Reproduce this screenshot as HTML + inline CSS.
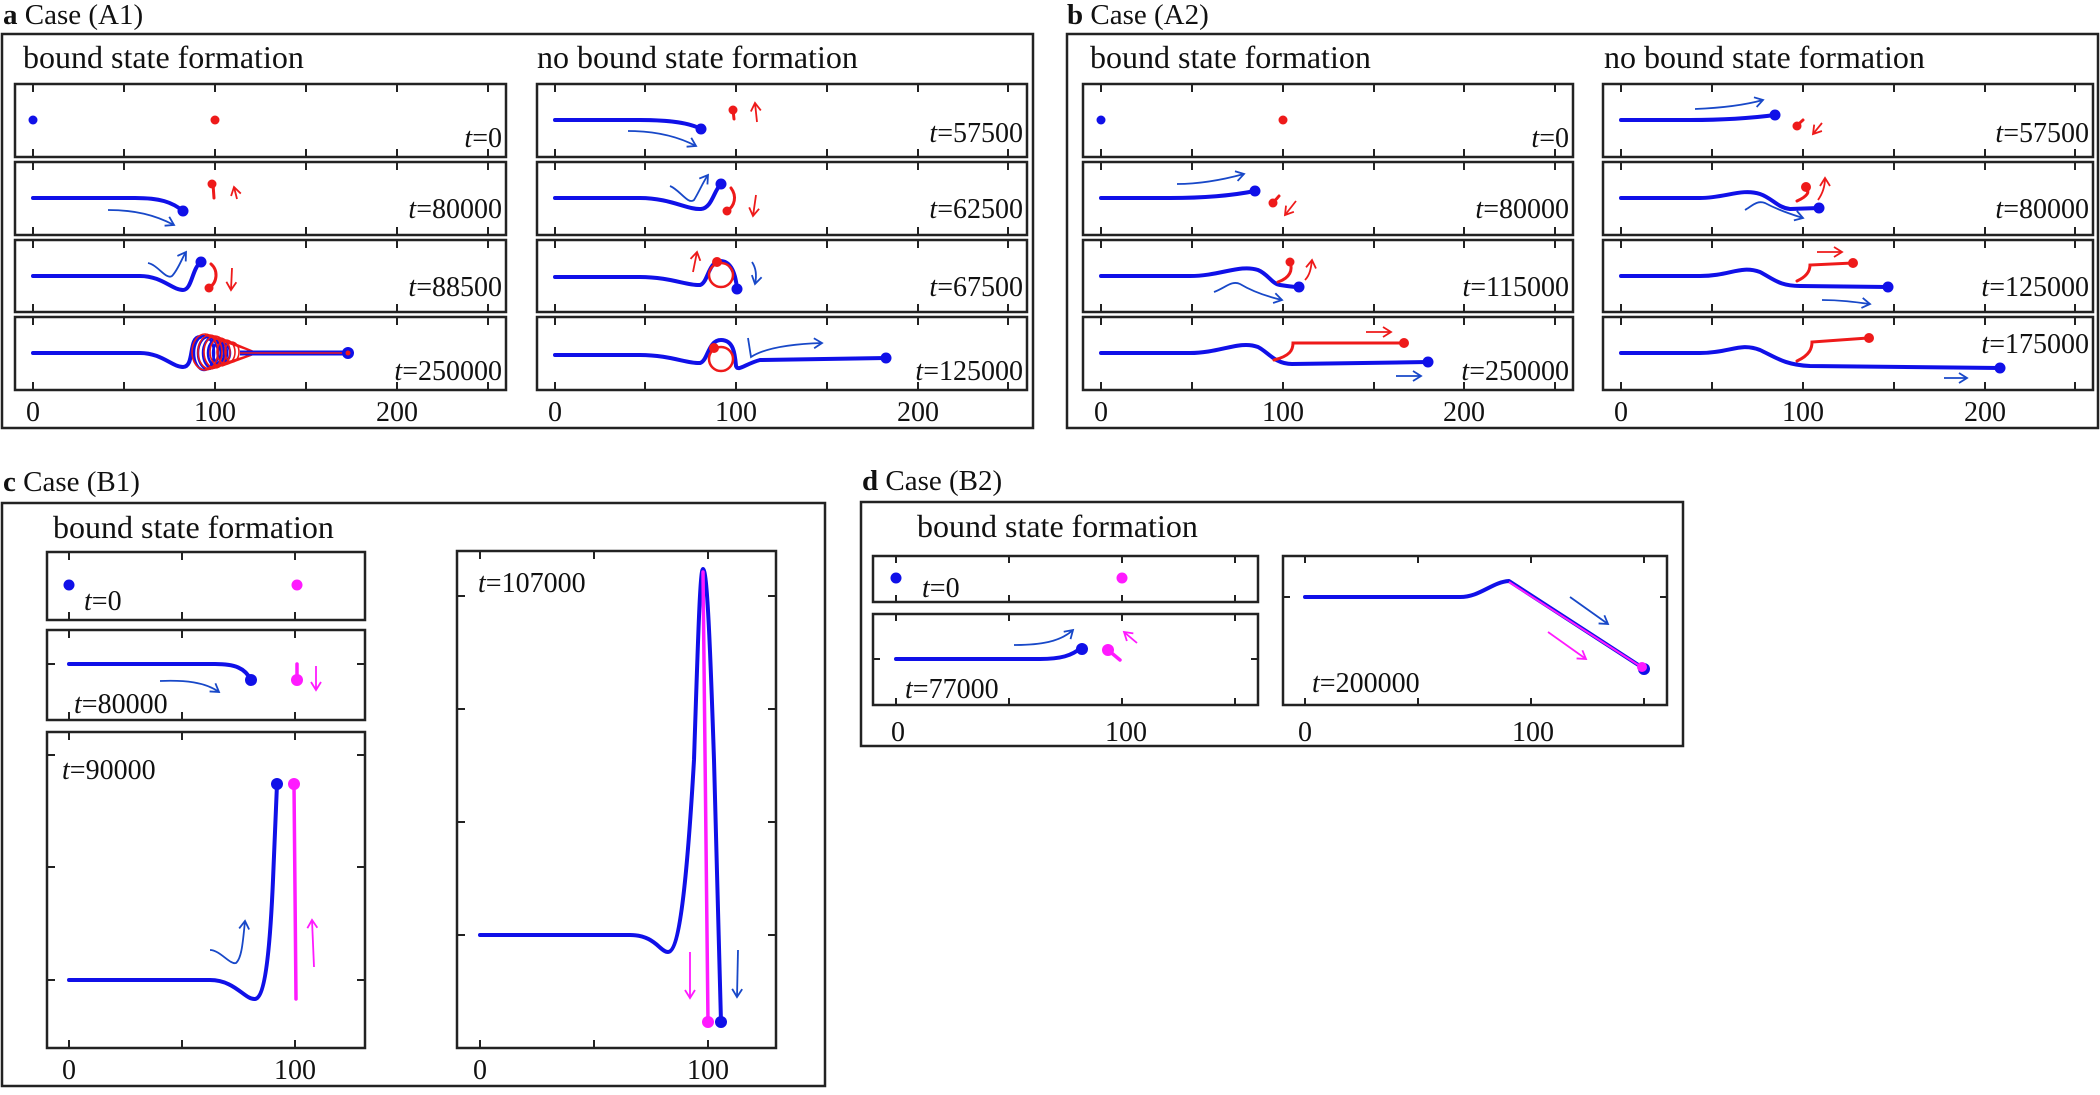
<!DOCTYPE html>
<html><head><meta charset="utf-8"><style>
html,body{margin:0;padding:0;background:#fff;}
svg{display:block;}
text{font-family:"Liberation Serif",serif;font-size:28px;fill:#111;}
.hd{font-size:32px;}
.ti{font-size:29px;}
.fr{fill:none;stroke:#222;stroke-width:2.5;}
.tk{stroke:#222;stroke-width:2;}
.b{fill:none;stroke:#1010e8;stroke-width:4;stroke-linecap:round;stroke-linejoin:round;}
.r{fill:none;stroke:#ee1a1a;stroke-width:3;stroke-linecap:round;}
.m{fill:none;stroke:#ff1aff;stroke-width:3.5;stroke-linecap:round;}
.ba{fill:none;stroke:#1848c8;stroke-width:1.8;marker-end:url(#ab);}
.ra{fill:none;stroke:#ee1a1a;stroke-width:1.8;marker-end:url(#ar);}
.ma{fill:none;stroke:#ff1aff;stroke-width:1.8;marker-end:url(#am);}
.bd{fill:#1010e8;}.rd{fill:#ee1a1a;}.md{fill:#ff1aff;}
</style></head><body>
<svg width="2100" height="1095" viewBox="0 0 2100 1095" xmlns="http://www.w3.org/2000/svg">
<defs>
<marker id="ab" markerWidth="12" markerHeight="12" refX="9" refY="6" orient="auto" markerUnits="userSpaceOnUse"><path d="M1,1 L9,6 L1,11" fill="none" stroke="#1848c8" stroke-width="1.8"/></marker>
<marker id="ar" markerWidth="12" markerHeight="12" refX="9" refY="6" orient="auto" markerUnits="userSpaceOnUse"><path d="M1,1 L9,6 L1,11" fill="none" stroke="#ee1a1a" stroke-width="1.8"/></marker>
<marker id="am" markerWidth="12" markerHeight="12" refX="9" refY="6" orient="auto" markerUnits="userSpaceOnUse"><path d="M1,1 L9,6 L1,11" fill="none" stroke="#ff1aff" stroke-width="1.8"/></marker>
</defs>

<!-- ============ Panel a ============ -->
<text class="ti" x="3" y="24"><tspan font-weight="bold">a</tspan> Case (A1)</text>
<rect class="fr" x="2" y="34" width="1031" height="394"/>
<text class="hd" x="23" y="68">bound state formation</text>
<text class="hd" x="537" y="68">no bound state formation</text>
<rect class="fr" x="15" y="84" width="491" height="73"/>
<rect class="fr" x="15" y="162" width="491" height="73"/>
<rect class="fr" x="15" y="240" width="491" height="72"/>
<rect class="fr" x="15" y="317" width="491" height="73"/>
<rect class="fr" x="537" y="84" width="490" height="73"/>
<rect class="fr" x="537" y="162" width="490" height="73"/>
<rect class="fr" x="537" y="240" width="490" height="72"/>
<rect class="fr" x="537" y="317" width="490" height="73"/>
<path class="tk" d="
M33,84v8M124,84v8M215,84v8M306,84v8M397,84v8M488,84v8 M33,157v-8M124,157v-8M215,157v-8M306,157v-8M397,157v-8M488,157v-8
M33,162v8M124,162v8M215,162v8M306,162v8M397,162v8M488,162v8 M33,235v-8M124,235v-8M215,235v-8M306,235v-8M397,235v-8M488,235v-8
M33,240v8M124,240v8M215,240v8M306,240v8M397,240v8M488,240v8 M33,312v-8M124,312v-8M215,312v-8M306,312v-8M397,312v-8M488,312v-8
M33,317v8M124,317v8M215,317v8M306,317v8M397,317v8M488,317v8 M33,390v-8M124,390v-8M215,390v-8M306,390v-8M397,390v-8M488,390v-8
M555,84v8M645,84v8M736,84v8M827,84v8M918,84v8M1008,84v8 M555,157v-8M645,157v-8M736,157v-8M827,157v-8M918,157v-8M1008,157v-8
M555,162v8M645,162v8M736,162v8M827,162v8M918,162v8M1008,162v8 M555,235v-8M645,235v-8M736,235v-8M827,235v-8M918,235v-8M1008,235v-8
M555,240v8M645,240v8M736,240v8M827,240v8M918,240v8M1008,240v8 M555,312v-8M645,312v-8M736,312v-8M827,312v-8M918,312v-8M1008,312v-8
M555,317v8M645,317v8M736,317v8M827,317v8M918,317v8M1008,317v8 M555,390v-8M645,390v-8M736,390v-8M827,390v-8M918,390v-8M1008,390v-8"/>
<text x="33" y="421" text-anchor="middle">0</text><text x="215" y="421" text-anchor="middle">100</text><text x="397" y="421" text-anchor="middle">200</text>
<text x="555" y="421" text-anchor="middle">0</text><text x="736" y="421" text-anchor="middle">100</text><text x="918" y="421" text-anchor="middle">200</text>
<text x="502" y="147" text-anchor="end"><tspan font-style="italic">t</tspan>=0</text>
<text x="502" y="218" text-anchor="end"><tspan font-style="italic">t</tspan>=80000</text>
<text x="502" y="296" text-anchor="end"><tspan font-style="italic">t</tspan>=88500</text>
<text x="502" y="380" text-anchor="end"><tspan font-style="italic">t</tspan>=250000</text>
<text x="1023" y="142" text-anchor="end"><tspan font-style="italic">t</tspan>=57500</text>
<text x="1023" y="218" text-anchor="end"><tspan font-style="italic">t</tspan>=62500</text>
<text x="1023" y="296" text-anchor="end"><tspan font-style="italic">t</tspan>=67500</text>
<text x="1023" y="380" text-anchor="end"><tspan font-style="italic">t</tspan>=125000</text>
<!-- a left -->
<circle class="bd" cx="33" cy="120" r="4.5"/><circle class="rd" cx="215" cy="120" r="4.5"/>
<path class="b" d="M33,198 L135,198 C160,198 172,202 183,211"/><circle class="bd" cx="183" cy="211" r="5.5"/>
<path class="ba" d="M108,210 C135,210 155,215 174,225"/>
<path class="r" d="M213,184 L214,198"/><circle class="rd" cx="212" cy="184" r="4.5"/>
<path class="ra" d="M237,199 L234,187"/>
<path class="b" d="M33,276 L140,276 C162,276 172,290 183,290 C192,290 192,268 201,262"/><circle class="bd" cx="201" cy="262" r="5.5"/>
<path class="ba" d="M148,263 C158,265 166,280 172,276 C178,270 182,258 186,252"/>
<path class="r" d="M211,264 C218,270 218,282 209,288"/><circle class="rd" cx="209" cy="288" r="4.5"/>
<path class="ra" d="M232,268 L231,290"/>
<path class="b" d="M33,353 L140,353 C162,353 172,367 183,367 C195,367 188,337 200,337"/>
<g fill="none" stroke="#1010e8" stroke-width="2.5">
<ellipse cx="204" cy="353" rx="10" ry="17"/><ellipse cx="208" cy="353" rx="10" ry="16"/><ellipse cx="212" cy="353" rx="9" ry="15"/><ellipse cx="216" cy="353" rx="8" ry="13"/><ellipse cx="220" cy="353" rx="7" ry="11"/><ellipse cx="224" cy="353" rx="6" ry="9"/>
</g>
<g fill="none" stroke="#ee1a1a" stroke-width="1.6">
<ellipse cx="205" cy="352" rx="13" ry="18"/><ellipse cx="210" cy="352" rx="12" ry="17"/><ellipse cx="215" cy="352" rx="11" ry="16"/><ellipse cx="220" cy="352" rx="10" ry="14"/><ellipse cx="226" cy="352" rx="9" ry="12"/><ellipse cx="232" cy="352" rx="7" ry="10"/>
<path d="M205,335 L257,353 M212,336 L257,353 M220,338 L257,353 M228,341 L257,353 M205,369 L257,353 M213,368 L257,353 M222,366 L257,353 M230,363 L257,353"/>
</g>
<path d="M240,353 L348,353" stroke="#1010e8" stroke-width="5" fill="none"/>
<path d="M240,353 L348,353" stroke="#ee1a1a" stroke-width="1.5" fill="none"/>
<circle class="bd" cx="348" cy="353" r="6"/><circle class="rd" cx="348" cy="353" r="2.5"/>
<!-- a right -->
<path class="b" d="M555,120 L640,120 C670,120 690,123 701,129"/><circle class="bd" cx="701" cy="129" r="5.5"/>
<path class="ba" d="M628,131 C655,131 677,136 696,146"/>
<path class="r" d="M733,110 L734,119"/><circle class="rd" cx="733" cy="110" r="4.5"/>
<path class="ra" d="M757,122 L755,103"/>
<path class="b" d="M555,198 L640,198 C670,198 688,210 701,209 C712,208 714,190 721,184"/><circle class="bd" cx="721" cy="184" r="5.5"/>
<path class="ba" d="M670,186 C680,190 688,205 694,200 C699,192 703,182 708,175"/>
<path class="r" d="M731,188 C737,196 735,206 727,211"/><circle class="rd" cx="727" cy="211" r="4.5"/>
<path class="ra" d="M756,195 L753,216"/>
<path class="b" d="M555,277 L640,277 C670,277 688,286 700,285 C708,283 708,262 720,261 C733,261 736,278 737,289"/><circle class="bd" cx="737" cy="289" r="5.5"/>
<circle cx="721" cy="275" r="12" fill="none" stroke="#ee1a1a" stroke-width="2.5"/><circle class="rd" cx="717" cy="262" r="5"/>
<path class="ra" d="M693,272 L697,252"/>
<path class="ba" d="M752,262 C756,268 757,275 755,284"/>
<path class="b" d="M555,355 L640,355 C670,355 688,364 700,363 C708,361 708,340 721,340 C734,340 735,355 736,366 C738,372 745,364 760,360 L886,358"/><circle class="bd" cx="886" cy="358" r="5.5"/>
<circle cx="721" cy="359" r="12" fill="none" stroke="#ee1a1a" stroke-width="2.5"/><circle class="rd" cx="714" cy="348" r="5"/>
<path class="ba" d="M748,338 L751,357 C765,348 790,344 822,343"/>

<!-- ============ Panel b ============ -->
<text class="ti" x="1067" y="24"><tspan font-weight="bold">b</tspan> Case (A2)</text>
<rect class="fr" x="1067" y="34" width="1031" height="394"/>
<text class="hd" x="1090" y="68">bound state formation</text>
<text class="hd" x="1604" y="68">no bound state formation</text>
<rect class="fr" x="1083" y="84" width="490" height="73"/>
<rect class="fr" x="1083" y="162" width="490" height="73"/>
<rect class="fr" x="1083" y="240" width="490" height="72"/>
<rect class="fr" x="1083" y="317" width="490" height="73"/>
<rect class="fr" x="1603" y="84" width="490" height="73"/>
<rect class="fr" x="1603" y="162" width="490" height="73"/>
<rect class="fr" x="1603" y="240" width="490" height="72"/>
<rect class="fr" x="1603" y="317" width="490" height="73"/>
<path class="tk" d="
M1101,84v8M1192,84v8M1283,84v8M1374,84v8M1464,84v8M1555,84v8 M1101,157v-8M1192,157v-8M1283,157v-8M1374,157v-8M1464,157v-8M1555,157v-8
M1101,162v8M1192,162v8M1283,162v8M1374,162v8M1464,162v8M1555,162v8 M1101,235v-8M1192,235v-8M1283,235v-8M1374,235v-8M1464,235v-8M1555,235v-8
M1101,240v8M1192,240v8M1283,240v8M1374,240v8M1464,240v8M1555,240v8 M1101,312v-8M1192,312v-8M1283,312v-8M1374,312v-8M1464,312v-8M1555,312v-8
M1101,317v8M1192,317v8M1283,317v8M1374,317v8M1464,317v8M1555,317v8 M1101,390v-8M1192,390v-8M1283,390v-8M1374,390v-8M1464,390v-8M1555,390v-8
M1621,84v8M1712,84v8M1803,84v8M1894,84v8M1985,84v8M2075,84v8 M1621,157v-8M1712,157v-8M1803,157v-8M1894,157v-8M1985,157v-8M2075,157v-8
M1621,162v8M1712,162v8M1803,162v8M1894,162v8M1985,162v8M2075,162v8 M1621,235v-8M1712,235v-8M1803,235v-8M1894,235v-8M1985,235v-8M2075,235v-8
M1621,240v8M1712,240v8M1803,240v8M1894,240v8M1985,240v8M2075,240v8 M1621,312v-8M1712,312v-8M1803,312v-8M1894,312v-8M1985,312v-8M2075,312v-8
M1621,317v8M1712,317v8M1803,317v8M1894,317v8M1985,317v8M2075,317v8 M1621,390v-8M1712,390v-8M1803,390v-8M1894,390v-8M1985,390v-8M2075,390v-8"/>
<text x="1101" y="421" text-anchor="middle">0</text><text x="1283" y="421" text-anchor="middle">100</text><text x="1464" y="421" text-anchor="middle">200</text>
<text x="1621" y="421" text-anchor="middle">0</text><text x="1803" y="421" text-anchor="middle">100</text><text x="1985" y="421" text-anchor="middle">200</text>
<text x="1569" y="147" text-anchor="end"><tspan font-style="italic">t</tspan>=0</text>
<text x="1569" y="218" text-anchor="end"><tspan font-style="italic">t</tspan>=80000</text>
<text x="1569" y="296" text-anchor="end"><tspan font-style="italic">t</tspan>=115000</text>
<text x="1569" y="380" text-anchor="end"><tspan font-style="italic">t</tspan>=250000</text>
<text x="2089" y="142" text-anchor="end"><tspan font-style="italic">t</tspan>=57500</text>
<text x="2089" y="218" text-anchor="end"><tspan font-style="italic">t</tspan>=80000</text>
<text x="2089" y="296" text-anchor="end"><tspan font-style="italic">t</tspan>=125000</text>
<text x="2089" y="353" text-anchor="end"><tspan font-style="italic">t</tspan>=175000</text>
<!-- b left -->
<circle class="bd" cx="1101" cy="120" r="4.5"/><circle class="rd" cx="1283" cy="120" r="4.5"/>
<path class="b" d="M1101,198 L1170,198 C1200,198 1230,196 1255,191"/><circle class="bd" cx="1255" cy="191" r="5.5"/>
<path class="ba" d="M1177,184 C1200,184 1222,180 1244,174"/>
<path class="r" d="M1273,202 C1276,200 1278,197 1279,196"/><circle class="rd" cx="1273" cy="203" r="4.5"/>
<path class="ra" d="M1296,201 L1285,215"/>
<path class="b" d="M1101,276 L1190,276 C1220,276 1240,264 1258,270 C1268,274 1272,284 1280,285 C1288,286 1292,287 1299,287"/><circle class="bd" cx="1299" cy="287" r="5.5"/>
<path class="r" d="M1278,282 C1290,278 1293,270 1290,262"/><circle class="rd" cx="1290" cy="262" r="4.5"/>
<path class="ra" d="M1305,280 C1310,275 1311,268 1312,260"/>
<path class="ba" d="M1214,292 C1225,288 1232,280 1240,284 C1250,290 1265,296 1282,300"/>
<path class="b" d="M1101,353 L1190,353 C1220,353 1240,340 1258,347 C1268,352 1275,364 1292,364 L1428,362"/><circle class="bd" cx="1428" cy="362" r="5.5"/>
<path class="r" d="M1274,360 C1290,356 1293,350 1293,343 L1404,343"/><circle class="rd" cx="1404" cy="343" r="5"/>
<path class="ra" d="M1366,332 L1391,332"/>
<path class="ba" d="M1396,376 L1421,376"/>
<!-- b right -->
<path class="b" d="M1621,120 L1690,120 C1720,120 1745,119 1775,115"/><circle class="bd" cx="1775" cy="115" r="5.5"/>
<path class="ba" d="M1695,109 C1720,108 1745,105 1763,100"/>
<path class="r" d="M1797,125 C1800,123 1802,121 1803,120"/><circle class="rd" cx="1797" cy="126" r="4.5"/>
<path class="ra" d="M1822,123 L1813,134"/>
<path class="b" d="M1621,198 L1700,198 C1725,198 1742,188 1760,194 C1772,198 1778,208 1790,209 L1819,208"/><circle class="bd" cx="1819" cy="208" r="5.5"/>
<path class="r" d="M1797,201 C1808,196 1810,192 1806,187"/><circle class="rd" cx="1806" cy="187" r="5"/>
<path class="ra" d="M1818,200 C1823,193 1825,186 1825,178"/>
<path class="ba" d="M1745,210 C1752,206 1757,200 1765,203 C1778,210 1790,214 1803,218"/>
<path class="b" d="M1621,276 L1700,276 C1730,276 1740,265 1760,272 C1775,280 1780,286 1800,286 L1888,287"/><circle class="bd" cx="1888" cy="287" r="5.5"/>
<path class="r" d="M1797,281 C1808,276 1810,270 1810,265 L1853,263"/><circle class="rd" cx="1853" cy="263" r="5"/>
<path class="ra" d="M1817,252 L1842,252"/>
<path class="ba" d="M1822,300 C1840,300 1855,302 1870,304"/>
<path class="b" d="M1621,353 L1700,353 C1730,353 1740,342 1760,350 C1775,357 1785,365 1810,366 L2000,368"/><circle class="bd" cx="2000" cy="368" r="5.5"/>
<path class="r" d="M1797,361 C1810,355 1812,348 1812,342 L1868,338"/><circle class="rd" cx="1869" cy="338" r="5"/>
<path class="ba" d="M1944,378 L1967,378"/>

<!-- ============ Panel c ============ -->
<text class="ti" x="3" y="491"><tspan font-weight="bold">c</tspan> Case (B1)</text>
<rect class="fr" x="2" y="503" width="823" height="583"/>
<text class="hd" x="53" y="538">bound state formation</text>
<rect class="fr" x="47" y="552" width="318" height="68"/>
<rect class="fr" x="47" y="630" width="318" height="90"/>
<rect class="fr" x="47" y="732" width="318" height="316"/>
<rect class="fr" x="457" y="551" width="319" height="497"/>
<path class="tk" d="
M69,552v8M182,552v8M295,552v8 M69,620v-8M182,620v-8M295,620v-8
M69,630v8M182,630v8M295,630v8 M69,720v-8M182,720v-8M295,720v-8 M47,664h8M365,664h-8
M69,732v8M182,732v8M295,732v8 M69,1048v-8M182,1048v-8M295,1048v-8 M47,755h8M365,755h-8M47,867h8M365,867h-8M47,980h8M365,980h-8
M480,551v8M594,551v8M708,551v8 M480,1048v-8M594,1048v-8M708,1048v-8
M457,596h8M776,596h-8M457,709h8M776,709h-8M457,822h8M776,822h-8M457,935h8M776,935h-8"/>
<text x="69" y="1079" text-anchor="middle">0</text><text x="295" y="1079" text-anchor="middle">100</text>
<text x="480" y="1079" text-anchor="middle">0</text><text x="708" y="1079" text-anchor="middle">100</text>
<text x="84" y="610"><tspan font-style="italic">t</tspan>=0</text>
<text x="74" y="713"><tspan font-style="italic">t</tspan>=80000</text>
<text x="62" y="779"><tspan font-style="italic">t</tspan>=90000</text>
<text x="478" y="592"><tspan font-style="italic">t</tspan>=107000</text>
<circle class="bd" cx="69" cy="585" r="5.5"/><circle class="md" cx="297" cy="585" r="5.5"/>
<path class="b" d="M69,664 L215,664 C235,664 245,668 251,680"/><circle class="bd" cx="251" cy="680" r="6"/>
<path class="ba" d="M160,681 C185,680 205,682 219,692"/>
<path class="m" d="M297,664 L297,680"/><circle class="md" cx="297" cy="680" r="6"/>
<path class="ma" d="M316,666 L316,690"/>
<path class="b" d="M69,980 L210,980 C235,980 245,1000 255,999 C265,998 270,950 273,880 L277,784"/><circle class="bd" cx="277" cy="784" r="6"/>
<path class="m" d="M296,999 L294,784"/><circle class="md" cx="294" cy="784" r="6"/>
<path class="ma" d="M314,967 L312,920"/>
<path class="ba" d="M210,950 C220,950 230,965 236,963 C242,958 243,940 245,921"/>
<path class="b" d="M480,935 L630,935 C655,935 660,952 668,952 C678,952 686,900 694,760 C698,640 700,569 703,569 C707,569 710,640 714,760 L721,1022"/><circle class="bd" cx="721" cy="1022" r="6"/>
<path class="m" d="M703,572 L708,1022"/><circle class="md" cx="708" cy="1022" r="6"/>
<path class="ma" d="M690,952 L690,998"/>
<path class="ba" d="M738,950 L737,997"/>

<!-- ============ Panel d ============ -->
<text class="ti" x="862" y="490"><tspan font-weight="bold">d</tspan> Case (B2)</text>
<rect class="fr" x="861" y="502" width="822" height="244"/>
<text class="hd" x="917" y="537">bound state formation</text>
<rect class="fr" x="873" y="556" width="385" height="46"/>
<rect class="fr" x="873" y="614" width="385" height="91"/>
<rect class="fr" x="1283" y="556" width="384" height="149"/>
<path class="tk" d="
M896,556v7M1009,556v7M1122,556v7M1235,556v7 M896,602v-7M1009,602v-7M1122,602v-7M1235,602v-7
M896,614v7M1009,614v7M1122,614v7M1235,614v7 M896,705v-7M1009,705v-7M1122,705v-7M1235,705v-7 M873,659h7M1258,659h-7
M1305,556v7M1418,556v7M1531,556v7M1644,556v7 M1305,705v-7M1418,705v-7M1531,705v-7M1644,705v-7 M1283,597h7M1667,597h-7"/>
<text x="898" y="741" text-anchor="middle">0</text><text x="1126" y="741" text-anchor="middle">100</text>
<text x="1305" y="741" text-anchor="middle">0</text><text x="1533" y="741" text-anchor="middle">100</text>
<text x="922" y="597"><tspan font-style="italic">t</tspan>=0</text>
<text x="905" y="698"><tspan font-style="italic">t</tspan>=77000</text>
<text x="1312" y="692"><tspan font-style="italic">t</tspan>=200000</text>
<circle class="bd" cx="896" cy="578" r="5.5"/><circle class="md" cx="1122" cy="578" r="5.5"/>
<path class="b" d="M896,659 L1040,659 C1060,659 1072,656 1082,647"/><circle class="bd" cx="1082" cy="649" r="6"/>
<path class="ba" d="M1014,645 C1040,645 1060,642 1073,630"/>
<path class="m" d="M1108,650 L1120,660"/><circle class="md" cx="1108" cy="650" r="6"/>
<path class="ma" d="M1137,643 L1124,632"/>
<path class="b" d="M1305,597 L1460,597 C1480,597 1492,582 1509,581 L1643,668"/>
<path d="M1509,582 L1643,668" stroke="#ff1aff" stroke-width="2" fill="none"/>
<circle class="bd" cx="1644" cy="669" r="6"/><circle class="md" cx="1642" cy="667" r="5"/>
<path class="ba" d="M1570,597 L1608,624"/>
<path class="ma" d="M1548,632 L1586,659"/>
</svg>
</body></html>
